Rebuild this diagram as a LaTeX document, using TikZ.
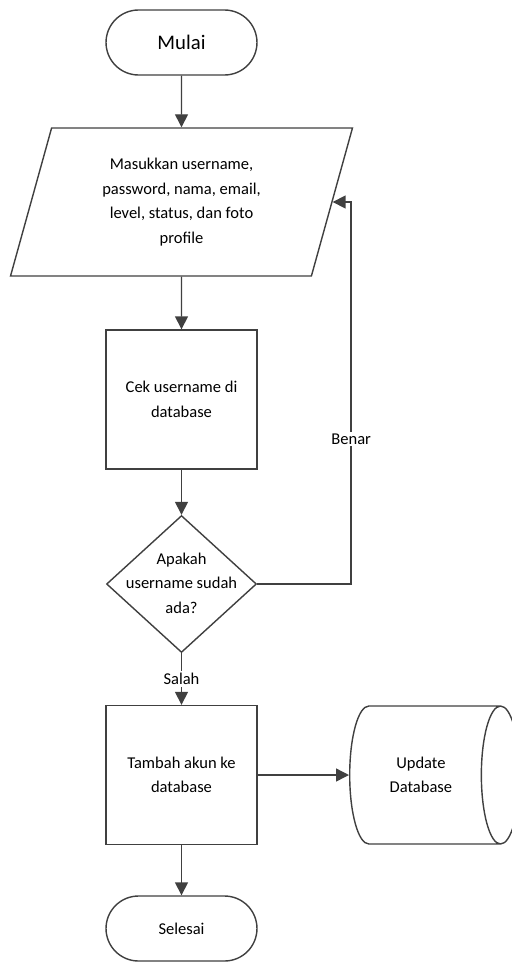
\documentclass[tikz,border=0pt]{standalone}
\usepackage{fontspec}
\setmainfont{Carlito}
\usetikzlibrary{shapes.geometric, arrows.meta}

\begin{document}
\begin{tikzpicture}[x=0.02cm, y=-0.02cm,
        font=\fontsize{9.4}{14}\selectfont,
        every node/.style={align=center, text=black},
        outline/.style={draw=black!75, line width=0.8pt, fill=white},
        term/.style={outline, rectangle, rounded corners=0.65cm, minimum width=3.02cm, minimum height=1.3cm},
        proc/.style={outline, rectangle, minimum width=3.02cm, minimum height=2.78cm},
        io/.style={outline, trapezium, trapezium left angle=67.6, trapezium right angle=112.4,
            trapezium stretches body, minimum width=6.84cm, minimum height=2.96cm},
        decision/.style={outline, diamond, inner sep=0pt, minimum width=3cm, minimum height=2.74cm},
        store/.style={outline, cylinder, aspect=0.8, minimum width=2.76cm, minimum height=3.4cm},
        arr/.style={draw=black!75, line width=0.8pt, -{Triangle[length=0.26cm, width=0.26cm]}}]
    \useasboundingbox (0, 0) rectangle (511, 963);

    \node[term, font=\fontsize{11.8}{14}\selectfont] (start) at (181.5, 42.5) {Mulai};
    \node[io] (input) at (181.5, 202) {Masukkan username,\\ password, nama, email,\\ level, status, dan foto\\ profile};
    \node[proc] (cek) at (181.5, 399.5) {Cek username di\\ database};
    \node[decision] (decide) at (181.5, 584) {\makebox[0pt]{\begin{tabular}{@{}c@{}}Apakah\\ username sudah\\ ada?\end{tabular}}};
    \node[proc] (add) at (181.5, 775) {Tambah akun ke\\ database};
    \node[store, anchor=west] (db) at (349, 775) {Update\\ Database};
    \node[term] (stop) at (181.5, 928.5) {Selesai};

    \draw[arr] (start) -- (input);
    \draw[arr] (input) -- (cek);
    \draw[arr] (cek) -- (decide);
    \draw[arr] (decide) -- node[fill=white, inner sep=1pt] {Salah} (add);
    \draw[arr] (decide.east) -- ++(94, 0) |- node[pos=0.19, fill=white, inner sep=1pt] {Benar} (input.east);
    \draw[arr] (add) -- (db);
    \draw[arr] (add) -- (stop);
\end{tikzpicture}
\end{document}
